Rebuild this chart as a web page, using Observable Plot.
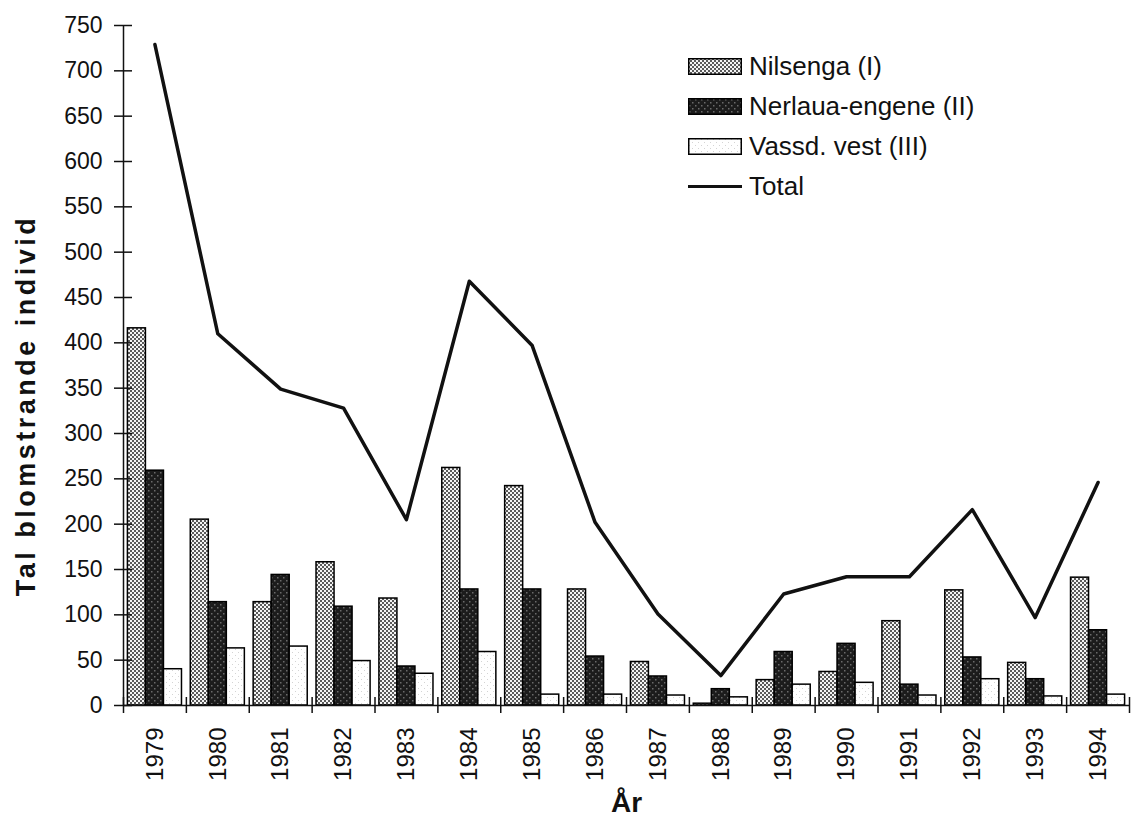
<!DOCTYPE html>
<html><head><meta charset="utf-8">
<script src="https://cdn.jsdelivr.net/npm/d3@7"></script>
<script src="https://cdn.jsdelivr.net/npm/@observablehq/plot@0.6"></script>
<style>
body{margin:0;background:#fff;font-family:"Liberation Sans",Arial,Helvetica,sans-serif;}
#wrap{position:relative;width:1131px;height:825px;}
#legend{position:absolute;left:688px;top:46px;font-size:26px;color:#111;}
.row{display:flex;align-items:center;height:40px;white-space:nowrap;}
.row svg{margin-right:7px;display:block;}
</style></head><body>
<svg width="0" height="0" style="position:absolute">
<defs>
<pattern id="pNil" width="4" height="4" patternUnits="userSpaceOnUse">
 <rect width="4" height="4" fill="#f4f4f4"/>
 <rect x="0" y="0" width="2" height="2" fill="#5a5a5a"/>
 <rect x="2" y="2" width="2" height="2" fill="#5a5a5a"/>
</pattern>
<pattern id="pNer" width="6" height="6" patternUnits="userSpaceOnUse">
 <rect width="6" height="6" fill="#1c1c1c"/>
 <rect x="1" y="1" width="1.5" height="1.5" fill="#6a6a6a"/>
 <rect x="4" y="4" width="1.5" height="1.5" fill="#6a6a6a"/>
</pattern>
<pattern id="pVas" width="6" height="6" patternUnits="userSpaceOnUse">
 <rect width="6" height="6" fill="#ffffff"/>
 <rect x="1" y="1" width="1" height="1" fill="#d4d4d4"/>
 <rect x="4" y="4" width="1" height="1" fill="#d4d4d4"/>
</pattern>
</defs>
</svg>
<div id="wrap"></div>
<script>
const years    = [1979,1980,1981,1982,1983,1984,1985,1986,1987,1988,1989,1990,1991,1992,1993,1994];
const nilsenga = [416, 205, 114, 158, 118, 262, 242, 128, 48, 2, 28, 37, 93, 127, 47, 141];
const nerlaua  = [259, 114, 144, 109, 43, 128, 128, 54, 32, 18, 59, 68, 23, 53, 29, 83];
const vassd    = [40, 63, 65, 49, 35, 59, 12, 12, 11, 9, 23, 25, 11, 29, 10, 12];
const total    = [729, 410, 349, 328, 205, 468, 397, 202, 101, 33, 123, 142, 142, 216, 97, 246];
const yTicks   = [0,50,100,150,200,250,300,350,400,450,500,550,600,650,700,750];
const seriesNames = ["Nilsenga (I)", "Nerlaua-engene (II)", "Vassd. vest (III)", "Total"];
const yLabel = "Tal blomstrande individ";
const xLabel = "År";

const data = years.map((year, i) => ({year, nil: nilsenga[i], ner: nerlaua[i], vas: vassd[i], total: total[i]}));
const series = [
  {key: "nil", fill: "#aaaaaa", pat: "url(#pNil)"},
  {key: "ner", fill: "#222222", pat: "url(#pNer)"},
  {key: "vas", fill: "#fefefe", pat: "url(#pVas)"}
];
const group = 0.86, bw = group / 3;
const boundaries = d3.range(years[0] - 0.5, years[years.length - 1] + 1, 1);

const barMarks = series.map((s, i) => Plot.rect(data, {
  x1: d => d.year - group / 2 + i * bw,
  x2: d => d.year - group / 2 + (i + 1) * bw,
  y1: () => 0,
  y2: s.key,
  fill: s.fill,
  stroke: "#000",
  strokeWidth: 1.5
}));

const plot = Plot.plot({
  width: 1131,
  height: 825,
  marginLeft: 123,
  marginRight: 2,
  marginTop: 25,
  marginBottom: 120,
  style: {fontFamily: "'Liberation Sans', Arial, Helvetica, sans-serif", color: "#111", background: "white"},
  x: {domain: [years[0] - 0.5, years[years.length - 1] + 0.5], label: null},
  y: {domain: [0, 750], label: null},
  marks: [
    ...barMarks,
    Plot.line(data, {x: "year", y: "total", stroke: "#111", strokeWidth: 3.5, strokeLinejoin: "round"}),
    Plot.ruleY([0], {stroke: "#111", strokeWidth: 1.5}),
    Plot.ruleX([boundaries[0]], {y1: 0, y2: 750, stroke: "#111", strokeWidth: 1.5}),
    Plot.axisX(boundaries, {tickSize: 16, dy: -8, tickFormat: () => "", strokeWidth: 1.5, label: null}),
    Plot.axisX(years, {tickSize: 0, tickPadding: 22, tickRotate: -90, tickFormat: d => String(d), fontSize: 24, label: null}),
    Plot.axisY(yTicks, {tickSize: 9, tickPadding: 12, fontSize: 23, strokeWidth: 1.5, label: null}),
    Plot.axisY(yTicks, {tickSize: 9, dx: 9, tickFormat: () => "", strokeWidth: 1.5, label: null}),
    Plot.text([yLabel], {frameAnchor: "left", textAnchor: "middle", rotate: -90, dx: -97, dy: 40, fontSize: 27, fontWeight: "bold"}),
    Plot.text([xLabel], {frameAnchor: "bottom", textAnchor: "middle", dy: 106, fontSize: 28, fontWeight: "bold"})
  ]
});

series.forEach(s => {
  d3.select(plot).selectAll(`g[fill="${s.fill}"]`).attr("fill", s.pat);
});
d3.select(plot).selectAll("text").filter(function() { return this.textContent === yLabel; })
  .style("letter-spacing", "3.5px");

const wrap = document.getElementById("wrap");
wrap.appendChild(plot);

const legend = document.createElement("div");
legend.id = "legend";
const swatches = [
  `<svg width="54" height="17"><rect x="0.75" y="0.75" width="52.5" height="15.5" fill="url(#pNil)" stroke="#000" stroke-width="1.5"/></svg>`,
  `<svg width="54" height="17"><rect x="0.75" y="0.75" width="52.5" height="15.5" fill="url(#pNer)" stroke="#000" stroke-width="1.5"/></svg>`,
  `<svg width="54" height="17"><rect x="0.75" y="0.75" width="52.5" height="15.5" fill="url(#pVas)" stroke="#000" stroke-width="1.5"/></svg>`,
  `<svg width="54" height="17"><line x1="0" y1="8.5" x2="54" y2="8.5" stroke="#111" stroke-width="3"/></svg>`
];
seriesNames.forEach((name, i) => {
  const row = document.createElement("div");
  row.className = "row";
  row.innerHTML = swatches[i] + `<span>${name}</span>`;
  legend.appendChild(row);
});
wrap.appendChild(legend);
</script>
</body></html>
